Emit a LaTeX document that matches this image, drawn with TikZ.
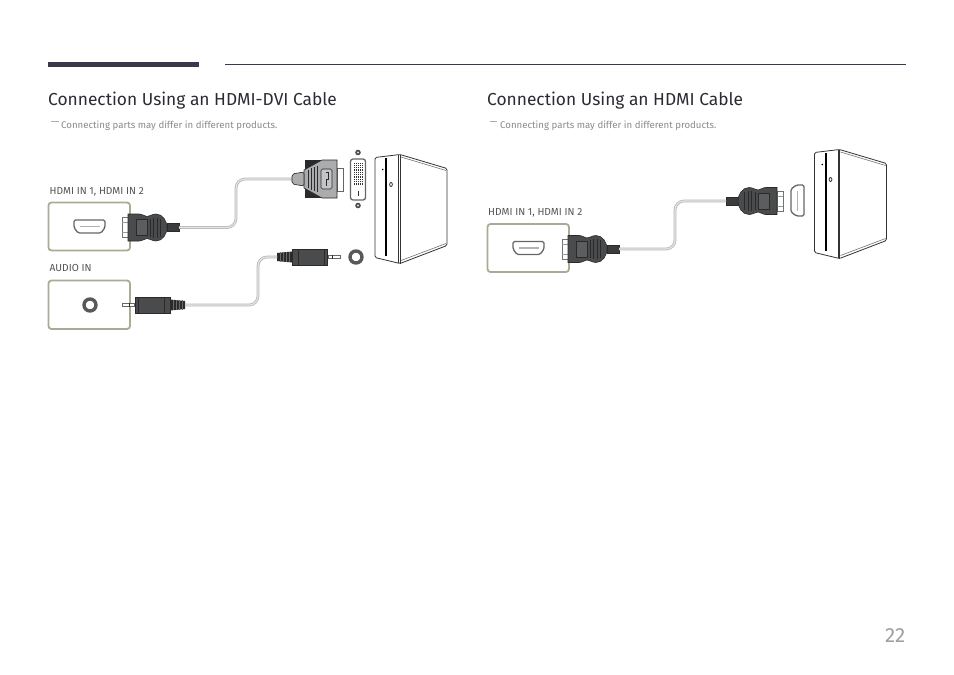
\documentclass[tikz,border=0pt]{standalone}
\usepackage{fontspec}
\setmainfont{Fira Sans}
\definecolor{titlec}{HTML}{2B2B33}
\definecolor{notec}{HTML}{8A8A8A}
\definecolor{labelc}{HTML}{555555}
\definecolor{barc}{HTML}{3A384C}
\definecolor{framec}{HTML}{A9AB94}
\definecolor{plugc}{HTML}{4A4B4D}
\definecolor{plugd}{HTML}{2A2A2B}
\definecolor{plugl}{HTML}{6A6B6D}
\definecolor{dvic}{HTML}{ABACAE}
\tikzset{
  x=1pt,y=-1pt,
  titletext/.style={anchor=base west,inner sep=0,text=titlec,font=\fontsize{17.35}{20}\selectfont},
  notetext/.style={anchor=base west,inner sep=0,text=notec,font=\fontsize{9.65}{10}\selectfont},
  labeltext/.style={anchor=base west,inner sep=0,text=labelc,font=\fontsize{10.2}{11}\selectfont},
  notedash/.style={draw=notec!70,line width=0.7pt},
  portframe/.style={draw=framec,line width=1.8pt,rounded corners=3pt,fill=white},
  cable/.style={draw=black!28,line width=.8pt,double=black!10,double distance=1.1pt,rounded corners=9pt},
  hdmiplug/.pic={
    \draw[draw=black!55,fill=white,line width=.6pt] (-6,-10) rectangle (0,10);
    \draw[draw=black!40,line width=.5pt] (-6,-5) -- (0,-5) (-6,5) -- (0,5);
    \draw[draw=plugd,fill=plugc!80!black,line width=.5pt] (39,-4) rectangle (51,4);
    \draw[fill=plugc,draw=plugd,line width=.6pt] (0,-13.5) -- (11,-13.5)
      .. controls (15,-13.5) and (16,-11) .. (19,-11)
      .. controls (22,-11) and (24,-13.5) .. (28,-13.5)
      .. controls (35,-13.5) and (39,-6) .. (39,0)
      .. controls (39,6) and (35,13.5) .. (28,13.5)
      .. controls (24,13.5) and (22,11) .. (19,11)
      .. controls (16,11) and (15,13.5) .. (11,13.5) -- (0,13.5) -- cycle;
    \draw[draw=plugd,fill=plugl!55!plugc,line width=.5pt] (8,-8) rectangle (19,8);
    \draw[draw=plugd,line width=.55pt] (22,-9) -- (22,9) (25.5,-10) -- (25.5,10) (29,-10) -- (29,10) (32.5,-9) -- (32.5,9);
    \coordinate (-end) at (51,0);
  },
  audioplug/.pic={
    \draw[draw=black!60,fill=white,line width=.6pt] (-13,-1.5) -- (-1,-1.5) -- (-1,1.5) -- (-13,1.5) -- cycle;
    \fill[plugd] (-6,-1.7) rectangle (-5,1.7);
    \draw[fill=plugc,draw=plugd,line width=.6pt] (0,-8) rectangle (35,8);
    \draw[draw=plugd,line width=.6pt] (3,-8) -- (3,8) (29,-8) -- (29,8);
    \fill[plugd] (35,-5.5) -- (50,-4) -- (50,4) -- (35,5.5) -- cycle;
    \foreach \xr in {38,41,44,47} \draw[draw=plugl,line width=.5pt] (\xr,-5) -- (\xr,5);
    \coordinate (-end) at (50,0);
  },
  hdmiport/.pic={
    \draw[draw=black!60,fill=white,line width=1.3pt,rounded corners=1.5pt] (-15.5,-6.5) -- (15.5,-6.5) -- (15.5,1) -- (11.5,6.5) -- (-11.5,6.5) -- (-15.5,1) -- cycle;
    \draw[draw=black!30,line width=1.4pt] (-10,0) -- (10,0);
  },
  ringport/.pic={
    \draw[draw=black!65,fill=white,line width=3.4pt] (0,0) circle (6);
  },
  tower/.pic={
    \draw[fill=white,draw=black!80,line width=.8pt,rounded corners=1.5pt] (0,3) -- (25,0) -- (72,14) -- (72,91) -- (25,109) -- (0,103) -- cycle;
    \draw[draw=black!80,line width=.7pt] (25,0) -- (25,109) (23.5,0.3) -- (23.5,108.5);
    \draw[draw=black!55,line width=.6pt] (26,2.5) -- (71,16) (26,106) -- (71,89);
    \fill[black] (10,3) rectangle (12,101);
    \fill[black] (7.7,15) circle (.9);
    \draw[draw=black!80,line width=.8pt] (16,30) ellipse (1.4 and 2);
  },
}
\begin{document}
\begin{tikzpicture}
\useasboundingbox (0,0) rectangle (954,675);
\fill[white] (0,0) rectangle (954,675);
% header rules
\fill[barc] (48,62) rectangle (199,67);
\draw[barc,line width=.9pt] (225,64.5) -- (906,64.5);
% titles
\node[titletext] (titleA) at (48,105) {Connection Using an HDMI-DVI Cable};
\node[titletext] (titleB) at (487,105) {Connection Using an HDMI Cable};
\draw[notedash] (51,121) -- (58.5,121);
\node[notetext] (noteA) at (61,128) {Connecting parts may differ in different products.};
\draw[notedash] (489.5,121) -- (497,121);
\node[notetext] (noteB) at (500,128) {Connecting parts may differ in different products.};
% left diagram
\node[labeltext] (lblA) at (49.5,194.5) {HDMI IN 1, HDMI IN 2};
\node[labeltext] (lblB) at (49.5,271.5) {AUDIO IN};
\draw[portframe] (48.5,202.5) rectangle (130,250.5);
\draw[portframe] (48.5,280.5) rectangle (130,329);
\pic at (89.5,226.5) {hdmiport};
\pic at (90,305) {ringport};
\pic (pa) at (128,227.5) {hdmiplug};
\pic (aa) at (135,305) {audioplug};
% DVI plug
\coordinate (dviend) at (292,179);
\coordinate (bendA) at (236,205);
\draw[cable] (pa-end) -| (bendA) |- (dviend);
\draw[draw=black!60,fill=white,line width=.7pt] (337,168) rectangle (343,191);
\fill[plugd] (305,160) -- (337,160) -- (337,198) -- (305,198) -- cycle;
\draw[fill=dvic,draw=plugd,line width=.6pt] (304,170) -- (322,160) -- (337,160) -- (337,198) -- (322,198) -- (304,188) -- cycle;
\draw[fill=dvic,draw=plugd,line width=.6pt,rounded corners=2pt] (292,174) -- (304,172) -- (304,186) -- (292,184) -- cycle;
\draw[draw=plugd,line width=.6pt] (308,170) -- (308,188) (311,168) -- (311,190) (314,167) -- (314,191) (317,166) -- (317,192);
\draw[fill=dvic!70,draw=plugd,line width=.6pt,rounded corners=1.5pt] (321,169) rectangle (332,189);
\draw[draw=plugd,line width=.7pt] (326,172) -- (328,172) -- (328,179) -- (326,179) -- (326,186);
% DVI port
\draw[draw=black!60,fill=white,line width=1.3pt,rounded corners=2.5pt] (350.5,159) rectangle (365.5,200);
\fill[black!70] (358,152.5) circle (2.8);
\fill[black!70] (358,205.5) circle (2.8);
\fill[black!15] (358,152.5) circle (1.1);
\fill[black!15] (358,205.5) circle (1.1);
\foreach \px in {354,355.9,357.8,359.7,361.6}
  \foreach \py in {162.5,164.8,167.1,169.4,171.7,174,176.3,178.6,180.9,183.2}
    \fill[black!80] (\px,\py) rectangle +(1.2,1.3);
\draw[black!80,line width=.8pt] (358,190.5) -- (358,195.5);
% audio plug top
\pic (ab) at (327,257) [xscale=-1] {audioplug};
\coordinate (bendB) at (258,280);
\draw[cable] (aa-end) -| (bendB) |- (ab-end);
\pic at (356,257) {ringport};
\pic at (375,154.5) {tower};
% right diagram
\node[labeltext] (lblC) at (488,215.5) {HDMI IN 1, HDMI IN 2};
\draw[portframe] (487.5,224) rectangle (569,272);
\pic at (528.5,248) {hdmiport};
\pic (pb) at (568,249) {hdmiplug};
\pic (pc) at (777,201) [xscale=-1] {hdmiplug};
\coordinate (bendC) at (675,225);
\draw[cable] (pb-end) -| (bendC) |- (pc-end);
\pic at (797.5,200.5) [rotate=90,yscale=-1] {hdmiport};
\pic at (814.5,149.5) {tower};
% page number
\node[anchor=base east,inner sep=0,text=black!38,font=\fontsize{20.5}{24}\selectfont] (pageno) at (905.5,642.5) {22};
\end{tikzpicture}
\end{document}
